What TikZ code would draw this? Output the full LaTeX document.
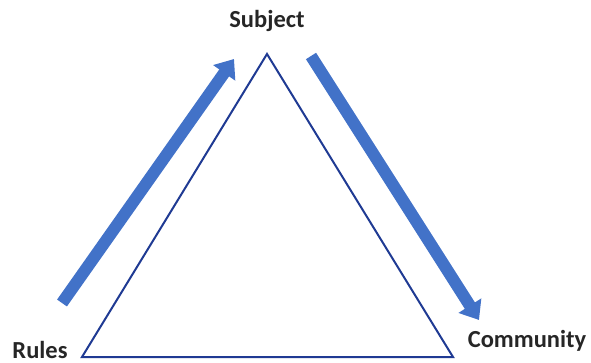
\documentclass[tikz,border=0pt]{standalone}
\usepackage{fontspec}
\setmainfont{Carlito}
\usetikzlibrary{arrows.meta}
\definecolor{edgeblue}{HTML}{1F3A93}
\definecolor{flowblue}{HTML}{4272C8}
\begin{document}
\begin{tikzpicture}[
  x=1pt,y=-1pt,
  side/.style={draw=edgeblue,line width=2pt,line join=miter},
  flow/.style={flowblue,line width=12pt,
    -{Triangle[width=26pt,length=17pt]}},
  label/.style={font=\fontsize{24.5}{28}\selectfont\bfseries,anchor=base,text=black!85}
]
  \useasboundingbox (0,0) rectangle (591,363);

  \coordinate (top) at (267,54);
  \coordinate (left) at (82,357);
  \coordinate (right) at (453,357);
  \draw[side] (top)--(left)--(right)--cycle;

  \coordinate (rtail) at (62,303);
  \coordinate (rhead) at (234,59);
  \draw[flow] (rtail)--(rhead);
  \coordinate (ctail) at (311,56);
  \coordinate (chead) at (479,320);
  \draw[flow] (ctail)--(chead);

  \node[label] (subj) at (267,28) {Subject};
  \node[label] (rules) at (40,358) {Rules};
  \node[label] (comm) at (527,347) {Community};
\end{tikzpicture}
\end{document}
